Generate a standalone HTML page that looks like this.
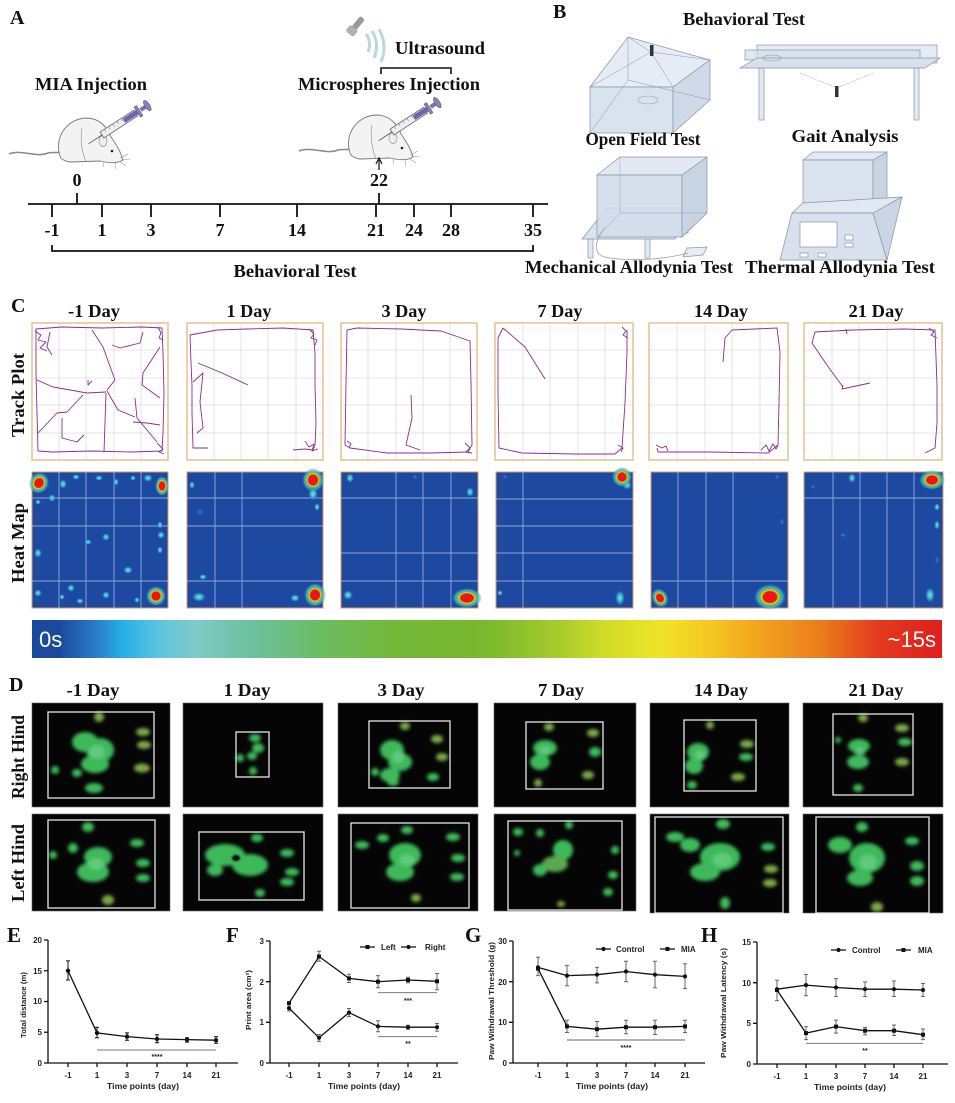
<!DOCTYPE html>
<html><head><meta charset="utf-8"><style>
html,body{margin:0;padding:0;background:#fff;}
svg{display:block;}
.s{font-family:"Liberation Serif",serif;font-weight:bold;fill:#111;}
.a{font-family:"Liberation Sans",sans-serif;font-weight:bold;fill:#222;}
</style></head><body>
<svg width="955" height="1103" viewBox="0 0 955 1103" xmlns="http://www.w3.org/2000/svg">
<defs>
<radialGradient id="hot"><stop offset="0" stop-color="#e81818"/><stop offset="0.42" stop-color="#e81818"/><stop offset="0.52" stop-color="#f0d020"/><stop offset="0.62" stop-color="#5cc050"/><stop offset="0.78" stop-color="#40c0d0" stop-opacity="0.8"/><stop offset="1" stop-color="#2f7ad0" stop-opacity="0"/></radialGradient>
<radialGradient id="cool"><stop offset="0" stop-color="#7fe0c0"/><stop offset="0.4" stop-color="#40c0c8"/><stop offset="0.7" stop-color="#3090d8" stop-opacity="0.7"/><stop offset="1" stop-color="#1d4aa0" stop-opacity="0"/></radialGradient>
<radialGradient id="faint"><stop offset="0" stop-color="#3fa0e0" stop-opacity="0.8"/><stop offset="1" stop-color="#1d4aa0" stop-opacity="0"/></radialGradient>
<linearGradient id="cb" x1="0" x2="1" y1="0" y2="0">
<stop offset="0" stop-color="#1b4a9c"/><stop offset="0.03" stop-color="#1b4a9c"/><stop offset="0.07" stop-color="#2a7cc8"/><stop offset="0.10" stop-color="#25b0e8"/><stop offset="0.14" stop-color="#5ec4e0"/><stop offset="0.18" stop-color="#7fcac8"/><stop offset="0.24" stop-color="#6cc0a0"/><stop offset="0.32" stop-color="#6cbc60"/><stop offset="0.40" stop-color="#74b838"/><stop offset="0.50" stop-color="#7ab82c"/><stop offset="0.58" stop-color="#a8cc2c"/><stop offset="0.63" stop-color="#d0dc28"/><stop offset="0.69" stop-color="#f0e428"/><stop offset="0.75" stop-color="#f5c420"/><stop offset="0.79" stop-color="#f2a81e"/><stop offset="0.87" stop-color="#ec7a1c"/><stop offset="0.93" stop-color="#e23a1e"/><stop offset="1" stop-color="#e01e1e"/>
</linearGradient>
<filter id="bl" x="-50%" y="-50%" width="200%" height="200%"><feGaussianBlur stdDeviation="1.8"/></filter>
<filter id="bl2" x="-50%" y="-50%" width="200%" height="200%"><feGaussianBlur stdDeviation="1"/></filter>
<g id="mouse">
<path d="M9,154 C22,149 36,158 48,153 C52,152 56,153 62,152" stroke="#8a8a8a" stroke-width="1.5" fill="none"/>
<path d="M60,156 C54,138 66,119 86,118 C100,118 108,128 111,137 C116,144 121,152 123,160 C117,164 108,163 100,161 L70,162 C64,161 61,159 60,156 Z" fill="#f3f3f3" stroke="#777" stroke-width="0.9"/>
<path d="M82,128 C80,140 82,152 86,162" stroke="#999" stroke-width="0.7" fill="none"/>
<ellipse cx="103" cy="141" rx="4" ry="5.5" fill="#eee" stroke="#999" stroke-width="0.7"/>
<circle cx="112" cy="151" r="1.3" fill="#222"/>
<path d="M120,158 l8,-4 M121,160 l9,-1 M120,162 l6,4 M115,163 l1,6 M104,162 l-1,5" stroke="#999" stroke-width="0.6"/>
<g transform="translate(102,135) rotate(-33)">
<line x1="-16" y1="0" x2="0" y2="0" stroke="#555" stroke-width="0.8"/>
<rect x="0" y="-3.5" width="40" height="7" fill="#eceef4" stroke="#666" stroke-width="0.8"/>
<path d="M5,-3.5v3 M10,-3.5v3 M15,-3.5v3 M20,-3.5v3 M25,-3.5v3 M30,-3.5v3 M35,-3.5v3" stroke="#777" stroke-width="0.5"/>
<rect x="26" y="-2.5" width="16" height="5" fill="#6d64ad"/>
<rect x="42" y="-6" width="3" height="12" fill="#8a80c0" stroke="#555" stroke-width="0.5"/>
<rect x="46" y="-2" width="6" height="4" fill="#7a70b0"/>
<ellipse cx="54" cy="0" rx="2.5" ry="6" fill="#8a80c0" stroke="#555" stroke-width="0.5"/>
</g>
</g>
</defs>

<!-- ================= PANEL A ================= -->
<text class="s" x="10" y="24" font-size="20">A</text>
<text class="s" x="91" y="90" font-size="18" text-anchor="middle" textLength="112" lengthAdjust="spacingAndGlyphs">MIA Injection</text>
<text class="s" x="389" y="90" font-size="18" text-anchor="middle" textLength="182" lengthAdjust="spacingAndGlyphs">Microspheres Injection</text>
<text class="s" x="440" y="54" font-size="18" text-anchor="middle" textLength="90" lengthAdjust="spacingAndGlyphs">Ultrasound</text>
<path d="M381,74 V68 H451 V74" stroke="#111" stroke-width="1.6" fill="none"/>
<!-- probe -->
<g transform="translate(355,27) rotate(40)"><rect x="-3" y="-12" width="6" height="14" fill="#9a9a9a" rx="2"/><rect x="-5" y="1" width="10" height="8" fill="#b0b0b0" rx="2"/></g>
<path d="M366,34 Q372,42 368,52" stroke="#bcd6e2" stroke-width="3" fill="none"/>
<path d="M372,31 Q380,44 374,58" stroke="#bcd6e2" stroke-width="3" fill="none"/>
<path d="M379,29 Q388,46 381,62" stroke="#bcd6e2" stroke-width="3" fill="none"/>
<use href="#mouse"/>
<use href="#mouse" transform="translate(290,-3)"/>
<path d="M379,170 V160 M376,164 L379,158 L382,164" stroke="#111" stroke-width="1.2" fill="none"/>
<text class="s" x="77" y="186" font-size="18" text-anchor="middle">0</text>
<text class="s" x="379" y="186" font-size="18" text-anchor="middle">22</text>
<g stroke="#111" stroke-width="1.8" fill="none">
<path d="M28,204 H548"/>
<path d="M77,193 V204 M379,193 V204"/>
<path d="M52,204 V217 M102,204 V217 M151,204 V217 M220,204 V217 M297,204 V217 M376,204 V217 M414,204 V217 M451,204 V217 M533,204 V217"/>
<path d="M52,245 V251 H533 V245"/>
</g>
<g class="s" font-size="18" text-anchor="middle">
<text x="52" y="236">-1</text><text x="102" y="236">1</text><text x="151" y="236">3</text><text x="220" y="236">7</text><text x="297" y="236">14</text><text x="376" y="236">21</text><text x="414" y="236">24</text><text x="451" y="236">28</text><text x="533" y="236">35</text>
</g>
<text class="s" x="295" y="277" font-size="18" text-anchor="middle" textLength="123" lengthAdjust="spacingAndGlyphs">Behavioral Test</text>

<!-- ================= PANEL B ================= -->
<text class="s" x="553" y="18" font-size="20">B</text>
<text class="s" x="744" y="25" font-size="18" text-anchor="middle" textLength="122" lengthAdjust="spacingAndGlyphs">Behavioral Test</text>
<!-- open field -->
<g stroke="#8796a8" stroke-width="0.7">
<polygon points="590,87 628,37 710,60 673,87" fill="#e6ecf5"/>
<polygon points="590,87 673,87 673,133 590,133" fill="#d9e2ef"/>
<polygon points="673,87 710,60 710,100 673,133" fill="#cfd9e8"/>
<path d="M628,37 V80 L590,133 M628,80 L710,100" fill="none" stroke-width="0.5"/>
<path d="M651,52 L590,87 M651,52 L673,87 M651,52 L628,37 M651,52 L710,60" fill="none" stroke-width="0.5"/>
</g>
<rect x="650" y="45" width="3.5" height="11" fill="#333"/>
<ellipse cx="648" cy="100" rx="10" ry="4" fill="none" stroke="#9aa" stroke-width="0.6"/>
<text class="s" x="643" y="145" font-size="18" text-anchor="middle" textLength="115" lengthAdjust="spacingAndGlyphs">Open Field Test</text>
<!-- gait -->
<g stroke="#8796a8" stroke-width="0.7">
<rect x="759" y="68" width="5" height="52" fill="#e3e9f2"/>
<rect x="914" y="68" width="5" height="52" fill="#e3e9f2"/>
<rect x="757" y="45" width="180" height="18" fill="#dfe6f0" fill-opacity="0.8"/>
<rect x="745" y="50" width="175" height="10" fill="#d3ddea" fill-opacity="0.7"/>
<polygon points="740,68 757,58 940,58 925,68" fill="#d7e0ec"/>
<path d="M800,73 L837,88 L873,73" fill="none" stroke-dasharray="2,1" stroke-width="0.5"/>
</g>
<ellipse cx="772" cy="58" rx="9" ry="3" fill="none" stroke="#999" stroke-width="0.6"/>
<rect x="835" y="86" width="3.5" height="11" fill="#333"/>
<text class="s" x="845" y="142" font-size="18" text-anchor="middle" textLength="107" lengthAdjust="spacingAndGlyphs">Gait Analysis</text>
<!-- mechanical -->
<g stroke="#8796a8" stroke-width="0.7">
<rect x="588" y="239" width="5" height="19" fill="#e3e9f2"/>
<rect x="645" y="239" width="5" height="19" fill="#e3e9f2"/>
<rect x="683" y="220" width="5" height="13" fill="#e3e9f2"/>
<polygon points="582,239 607,208 697,208 675,239" fill="#dbe3ee"/>
<polygon points="597,175 620,157 707,157 682,175" fill="#e3e9f2"/>
<polygon points="597,175 682,175 682,237 597,237" fill="#d2dcea" fill-opacity="0.9"/>
<polygon points="682,175 707,157 707,213 682,237" fill="#c8d3e4"/>
<polygon points="687,248 707,247 703,255 683,257" fill="#e8ecf2"/>
<path d="M620,157 V213 L597,237 M620,213 H707" fill="none" stroke-width="0.4"/>
<path d="M605,228 C595,240 590,256 610,258 C640,262 670,258 688,253" fill="none" stroke="#999" stroke-width="0.7"/>
</g>
<text class="s" x="629" y="273" font-size="18" text-anchor="middle" textLength="208" lengthAdjust="spacingAndGlyphs">Mechanical Allodynia Test</text>
<!-- thermal -->
<g stroke="#8796a8" stroke-width="0.7">
<polygon points="803,160 813,152 887,152 873,160" fill="#e3e9f2"/>
<polygon points="803,160 873,160 873,203 803,203" fill="#d6dfec" fill-opacity="0.9"/>
<polygon points="873,160 887,152 887,202 873,203" fill="#c8d3e4"/>
<polygon points="792,213 803,203 902,197 873,213" fill="#e3e9f2"/>
<polygon points="792,213 873,213 887,260 780,260" fill="#d8e1ed"/>
<polygon points="873,213 902,197 887,260" fill="#cad5e5"/>
<rect x="800" y="222" width="37" height="25" fill="#fff"/>
<rect x="845" y="235" width="8" height="5" fill="#fff"/>
<rect x="845" y="243" width="8" height="4" fill="#fff"/>
<rect x="800" y="253" width="8" height="4" fill="#fff"/>
<rect x="818" y="253" width="8" height="4" fill="#fff"/>
</g>
<text class="s" x="840" y="273" font-size="18" text-anchor="middle" textLength="190" lengthAdjust="spacingAndGlyphs">Thermal Allodynia Test</text>

<!-- ================= PANEL C ================= -->
<text class="s" x="11" y="312" font-size="20">C</text>
<g class="s" font-size="18" text-anchor="middle">
<text x="94" y="317" textLength="52" lengthAdjust="spacingAndGlyphs">-1 Day</text>
<text x="249" y="317" textLength="45" lengthAdjust="spacingAndGlyphs">1 Day</text>
<text x="404" y="317" textLength="45" lengthAdjust="spacingAndGlyphs">3 Day</text>
<text x="560" y="317" textLength="45" lengthAdjust="spacingAndGlyphs">7 Day</text>
<text x="721" y="317" textLength="54" lengthAdjust="spacingAndGlyphs">14 Day</text>
<text x="876" y="317" textLength="55" lengthAdjust="spacingAndGlyphs">21 Day</text>
</g>
<text class="s" font-size="18" text-anchor="middle" transform="translate(24,395) rotate(-90)" textLength="84" lengthAdjust="spacingAndGlyphs">Track Plot</text>
<text class="s" font-size="18" text-anchor="middle" transform="translate(24,543) rotate(-90)" textLength="80" lengthAdjust="spacingAndGlyphs">Heat Map</text>

<!-- track boxes -->
<g id="tgrid" stroke="#dcdcdc" stroke-width="0.8">
<path d="M59,323V460 M86,323V460 M114,323V460 M141,323V460 M32,350H168 M32,378H168 M32,405H168 M32,433H168"/>
<path d="M214,323V460 M241,323V460 M268,323V460 M296,323V460 M187,350H323 M187,378H323 M187,405H323 M187,433H323"/>
<path d="M368,323V460 M396,323V460 M423,323V460 M450,323V460 M341,350H477 M341,378H477 M341,405H477 M341,433H477"/>
<path d="M523,323V460 M550,323V460 M578,323V460 M605,323V460 M495,350H633 M495,378H633 M495,405H633 M495,433H633"/>
<path d="M677,323V460 M705,323V460 M732,323V460 M760,323V460 M649,350H788 M649,378H788 M649,405H788 M649,433H788"/>
<path d="M832,323V460 M859,323V460 M887,323V460 M914,323V460 M804,350H942 M804,378H942 M804,405H942 M804,433H942"/>
</g>
<g fill="none" stroke="#e6c08f" stroke-width="1.5">
<rect x="32" y="323" width="136" height="137"/><rect x="187" y="323" width="136" height="137"/><rect x="341" y="323" width="136" height="137"/><rect x="495" y="323" width="138" height="137"/><rect x="649" y="323" width="139" height="137"/><rect x="804" y="323" width="138" height="137"/>
</g>
<g fill="none" stroke="#8a2d8f" stroke-width="0.9" stroke-linejoin="round">
<g transform="translate(32,323)">
<path d="M4,6 L30,4 L70,5 L110,4 L130,5 L131,30 L132,70 L131,110 L130,128 L100,129 L60,128 L20,129 L6,128 L5,90 L4,50 Z"/>
<path d="M3,8 l6,4 l-3,5 l8,2 l-6,6 l7,3 M125,120 l6,6 l-4,3 l5,2 M126,4 l3,6 l-2,5 l4,2"/>
<path d="M5,57 L21,64 L55,70 L74,69 M60,7 L71,24 L83,57 L75,67 M74,70 L72,129 M75,68 L86,87 L103,94 M128,24 L111,50 L110,62 L128,75 M103,75 L105,95 L125,119 M101,99 L115,100 L128,102 M111,9 L108,20 L88,25 L80,22 M18,9 L15,24 L20,32 M6,110 L25,90 L35,89 L51,72 M30,95 L30,115 L45,119 L52,112 M56,57 L56,62 L60,58"/>
</g>
<g transform="translate(187,323)">
<path d="M3,12 L30,7 L60,6 L96,5 L126,7 L128,30 L128,62 L129,100 L128,122 L126,127 M3,12 L4,40 L5,62 L5,90 L6,125 L21,125 M11,40 L35,50 L61,62 M6,59 L16,50 L13,79 L16,105 L10,110 M106,127 L118,126 L126,127 M118,118 l4,6 l5,-3 l-2,7 l6,-2 M122,6 l5,5 l-3,4 l6,2 l-2,5"/>
</g>
<g transform="translate(341,323)">
<path d="M6,7 L16,5 L60,6 L100,8 L129,18 L130,60 L131,122 L127,129 L90,130 L46,130 L9,125 L4,122 L5,60 Z M70,72 L71,95 L65,122 L79,127 M124,120 l5,5 l-4,4 l6,1 M6,118 l4,3 l-2,4"/>
</g>
<g transform="translate(495,323)">
<path d="M8,5 L30,24 L50,56 M8,5 L3,15 L3,70 L4,125 L27,130 L80,131 L120,131 L127,125 L130,80 L132,29 L132,7 M127,4 l4,4 l-3,4 l5,3 M123,122 l5,3 l-2,4"/>
</g>
<g transform="translate(649,323)">
<path d="M74,39 L76,15 L83,7 L128,5 L131,29 L130,80 L129,122 L119,130 L60,129 L9,129 L8,125 M7,122 l6,3 l4,-2 l2,5 M112,127 l5,-5 l3,6 l4,-7 l3,5 l2,-4"/>
</g>
<g transform="translate(804,323)">
<path d="M66,60 L38,66 L39,62 M39,64 L25,45 L8,20 L11,9 L48,7 L100,6 L131,7 L133,62 L133,100 L131,125 L121,130 M125,5 l5,4 l-3,3 l6,3 M42,6 l1,5"/>
</g>
</g>

<!-- heat maps -->
<g fill="#1d4aa0" stroke="#d89a60" stroke-width="1">
<rect x="32" y="472" width="136" height="136"/><rect x="187" y="472" width="136" height="136"/><rect x="341" y="472" width="137" height="136"/><rect x="496" y="472" width="137" height="136"/><rect x="651" y="472" width="137" height="136"/><rect x="804" y="472" width="139" height="136"/>
</g>
<g stroke="#a8b8e4" stroke-width="0.9" opacity="0.85">
<path d="M59,472V608 M86,472V608 M114,472V608 M141,472V608 M32,498H168 M32,526H168 M32,581H168"/>
<path d="M215,472V608 M242,472V608 M187,498H323 M187,526H323 M187,581H323"/>
<path d="M396,472V608 M423,472V608 M451,472V608 M341,498H478 M341,553H478 M341,581H478"/>
<path d="M523,472V608 M496,499H633 M496,526H633 M496,553H633 M496,581H633"/>
<path d="M678,472V608 M706,472V608 M733,472V608 M651,581H788"/>
<path d="M833,472V608 M860,472V608 M887,472V608 M914,472V608 M804,498H943"/>
</g>
<!-- heat spots -->
<g fill="url(#cool)">
<ellipse cx="63" cy="484" rx="4" ry="5"/><ellipse cx="76" cy="477" rx="4" ry="3"/><ellipse cx="99" cy="478" rx="4" ry="3"/><ellipse cx="116" cy="482" rx="3" ry="4"/><ellipse cx="133" cy="478" rx="3" ry="3"/><ellipse cx="148" cy="478" rx="5" ry="4"/><ellipse cx="52" cy="498" rx="4" ry="4"/><ellipse cx="38" cy="502" rx="3" ry="3"/><ellipse cx="160" cy="525" rx="3" ry="4"/><ellipse cx="161" cy="535" rx="4" ry="4"/><ellipse cx="160" cy="550" rx="3" ry="4"/><ellipse cx="106" cy="537" rx="4" ry="4"/><ellipse cx="88" cy="542" rx="4" ry="3"/><ellipse cx="38" cy="553" rx="4" ry="5"/><ellipse cx="128" cy="570" rx="5" ry="4"/><ellipse cx="71" cy="588" rx="4" ry="4"/><ellipse cx="38" cy="593" rx="4" ry="4"/><ellipse cx="106" cy="595" rx="4" ry="4"/><ellipse cx="80" cy="601" rx="4" ry="3"/><ellipse cx="137" cy="600" rx="3" ry="3"/><ellipse cx="62" cy="597" rx="3" ry="3"/>
<ellipse cx="317" cy="507" rx="3" ry="4"/><ellipse cx="295" cy="598" rx="5" ry="4"/><ellipse cx="203" cy="577" rx="4" ry="3"/><ellipse cx="192" cy="485" rx="3" ry="4"/><ellipse cx="199" cy="597" rx="7" ry="5"/>
<ellipse cx="350" cy="478" rx="4" ry="5"/><ellipse cx="470" cy="492" rx="4" ry="5"/><ellipse cx="348" cy="595" rx="5" ry="5"/>
<ellipse cx="627" cy="485" rx="5" ry="5"/><ellipse cx="620" cy="598" rx="5" ry="8"/><ellipse cx="500" cy="593" rx="3" ry="3"/>
<ellipse cx="852" cy="478" rx="4" ry="5"/><ellipse cx="930" cy="595" rx="5" ry="8"/><ellipse cx="937" cy="525" rx="3" ry="5"/><ellipse cx="937" cy="507" rx="3" ry="4"/>
</g>
<g fill="url(#faint)">
<ellipse cx="200" cy="512" rx="4" ry="4"/><ellipse cx="415" cy="477" rx="3" ry="3"/><ellipse cx="505" cy="477" rx="3" ry="3"/><ellipse cx="777" cy="477" rx="3" ry="3"/><ellipse cx="782" cy="522" rx="3" ry="4"/><ellipse cx="843" cy="535" rx="4" ry="3"/><ellipse cx="813" cy="487" rx="3" ry="3"/><ellipse cx="937" cy="560" rx="3" ry="5"/>
</g>
<g fill="url(#hot)">
<ellipse cx="39" cy="483" rx="10" ry="11" transform="rotate(30 39 483)"/>
<ellipse cx="162" cy="486" rx="7" ry="10"/>
<ellipse cx="156" cy="596" rx="10" ry="10"/>
<ellipse cx="313" cy="480" rx="11" ry="12"/><ellipse cx="313" cy="494" rx="5" ry="7" fill="url(#cool)"/>
<ellipse cx="315" cy="595" rx="11" ry="12"/>
<ellipse cx="467" cy="598" rx="15" ry="10"/>
<ellipse cx="622" cy="477" rx="10" ry="10"/>
<ellipse cx="660" cy="598" rx="8" ry="10" transform="rotate(-30 660 598)"/>
<ellipse cx="770" cy="597" rx="16" ry="13"/>
<ellipse cx="932" cy="480" rx="13" ry="10"/>
</g>
<!-- colour bar -->
<rect x="32" y="620" width="910" height="38" fill="url(#cb)"/>
<text x="39" y="647" font-family="Liberation Sans, sans-serif" font-size="22" fill="#fff">0s</text>
<text x="936" y="647" font-family="Liberation Sans, sans-serif" font-size="22" fill="#fff" text-anchor="end">~15s</text>

<!-- ================= PANEL D ================= -->
<text class="s" x="9" y="691" font-size="20">D</text>
<g class="s" font-size="18" text-anchor="middle">
<text x="93" y="696" textLength="53" lengthAdjust="spacingAndGlyphs">-1 Day</text>
<text x="247" y="696" textLength="47" lengthAdjust="spacingAndGlyphs">1 Day</text>
<text x="401" y="696" textLength="47" lengthAdjust="spacingAndGlyphs">3 Day</text>
<text x="561" y="696" textLength="46" lengthAdjust="spacingAndGlyphs">7 Day</text>
<text x="721" y="696" textLength="54" lengthAdjust="spacingAndGlyphs">14 Day</text>
<text x="876" y="696" textLength="55" lengthAdjust="spacingAndGlyphs">21 Day</text>
</g>
<text class="s" font-size="18" text-anchor="middle" transform="translate(24,757) rotate(-90)" textLength="84" lengthAdjust="spacingAndGlyphs">Right Hind</text>
<text class="s" font-size="18" text-anchor="middle" transform="translate(24,863) rotate(-90)" textLength="78" lengthAdjust="spacingAndGlyphs">Left Hind</text>
<g fill="#050505" stroke="#666" stroke-width="0.6">
<rect x="32" y="703" width="138" height="104"/><rect x="183" y="703" width="140" height="104"/><rect x="338" y="703" width="140" height="104"/><rect x="494" y="703" width="142" height="104"/><rect x="650" y="703" width="139" height="104"/><rect x="803" y="703" width="140" height="104"/>
<rect x="32" y="814" width="138" height="97"/><rect x="183" y="814" width="140" height="97"/><rect x="338" y="814" width="140" height="97"/><rect x="494" y="814" width="142" height="97"/><rect x="650" y="814" width="139" height="99"/><rect x="803" y="814" width="140" height="99"/>
</g>
<g filter="url(#bl)" fill="#3cb95a">
<!-- right hind -->
<ellipse cx="85" cy="742" rx="13" ry="10"/><ellipse cx="100" cy="750" rx="14" ry="12"/><ellipse cx="95" cy="764" rx="14" ry="9"/>
<ellipse cx="99" cy="717" rx="5" ry="5" fill="#7ca84a"/><ellipse cx="143" cy="732" rx="7" ry="4" fill="#7ca84a"/><ellipse cx="144" cy="745" rx="7" ry="4" fill="#7ca84a"/><ellipse cx="142" cy="768" rx="8" ry="4.5" fill="#7ca84a"/><ellipse cx="94" cy="788" rx="9" ry="5"/><ellipse cx="77" cy="773" rx="5" ry="4"/><ellipse cx="55" cy="770" rx="4" ry="4"/>
<ellipse cx="255" cy="738" rx="6" ry="4"/><ellipse cx="258" cy="748" rx="6" ry="5"/><ellipse cx="252" cy="756" rx="5" ry="4"/><ellipse cx="240" cy="758" rx="4" ry="4"/><ellipse cx="253" cy="771" rx="4" ry="4"/>
<ellipse cx="392" cy="750" rx="12" ry="10"/><ellipse cx="400" cy="762" rx="12" ry="9"/><ellipse cx="390" cy="775" rx="10" ry="7"/>
<ellipse cx="405" cy="726" rx="5" ry="4" fill="#7ca84a"/><ellipse cx="437" cy="739" rx="6" ry="4" fill="#7ca84a"/><ellipse cx="442" cy="757" rx="6" ry="4" fill="#7ca84a"/><ellipse cx="433" cy="777" rx="6" ry="4"/><ellipse cx="393" cy="782" rx="6" ry="4"/><ellipse cx="375" cy="772" rx="4" ry="4"/>
<ellipse cx="545" cy="748" rx="12" ry="8"/><ellipse cx="540" cy="762" rx="10" ry="8"/>
<ellipse cx="549" cy="727" rx="5" ry="4" fill="#7ca84a"/><ellipse cx="593" cy="733" rx="6" ry="4" fill="#7ca84a"/><ellipse cx="595" cy="752" rx="6" ry="5"/><ellipse cx="588" cy="775" rx="6" ry="4" fill="#7ca84a"/><ellipse cx="538" cy="783" rx="4" ry="4" fill="#7ca84a"/>
<ellipse cx="698" cy="752" rx="11" ry="9"/><ellipse cx="694" cy="766" rx="9" ry="8"/>
<ellipse cx="710" cy="725" rx="4" ry="4" fill="#7ca84a"/><ellipse cx="747" cy="744" rx="7" ry="4" fill="#7ca84a"/><ellipse cx="746" cy="757" rx="7" ry="4"/><ellipse cx="738" cy="777" rx="7" ry="4" fill="#7ca84a"/><ellipse cx="692" cy="785" rx="5" ry="4"/>
<ellipse cx="859" cy="746" rx="11" ry="7"/><ellipse cx="858" cy="762" rx="11" ry="7"/>
<ellipse cx="863" cy="718" rx="5" ry="4" fill="#7ca84a"/><ellipse cx="902" cy="728" rx="7" ry="4" fill="#7ca84a"/><ellipse cx="905" cy="742" rx="7" ry="4"/><ellipse cx="902" cy="762" rx="7" ry="4" fill="#7ca84a"/><ellipse cx="858" cy="788" rx="5" ry="4"/><ellipse cx="838" cy="740" rx="3" ry="3"/>
<!-- left hind -->
<ellipse cx="98" cy="857" rx="14" ry="10"/><ellipse cx="93" cy="872" rx="16" ry="10"/>
<ellipse cx="88" cy="827" rx="6" ry="5"/><ellipse cx="73" cy="848" rx="5" ry="5"/><ellipse cx="53" cy="855" rx="4" ry="4"/><ellipse cx="137" cy="843" rx="7" ry="4"/><ellipse cx="143" cy="863" rx="7" ry="4"/><ellipse cx="143" cy="878" rx="7" ry="4"/><ellipse cx="108" cy="900" rx="6" ry="5" fill="#7ca84a"/>
<ellipse cx="225" cy="855" rx="20" ry="11"/><ellipse cx="250" cy="865" rx="18" ry="11"/><ellipse cx="215" cy="870" rx="8" ry="6"/>
<ellipse cx="257" cy="838" rx="6" ry="4"/><ellipse cx="287" cy="853" rx="7" ry="4"/><ellipse cx="292" cy="872" rx="7" ry="4"/><ellipse cx="287" cy="882" rx="7" ry="4"/><ellipse cx="260" cy="893" rx="5" ry="4"/>
<ellipse cx="405" cy="855" rx="16" ry="12"/><ellipse cx="400" cy="872" rx="14" ry="9"/>
<ellipse cx="407" cy="830" rx="6" ry="4"/><ellipse cx="362" cy="845" rx="7" ry="4"/><ellipse cx="383" cy="838" rx="6" ry="4"/><ellipse cx="453" cy="837" rx="7" ry="4"/><ellipse cx="458" cy="858" rx="7" ry="4"/><ellipse cx="457" cy="877" rx="7" ry="4"/><ellipse cx="416" cy="898" rx="5" ry="4" fill="#7ca84a"/>
<ellipse cx="563" cy="850" rx="10" ry="10"/><ellipse cx="555" cy="864" rx="13" ry="8" fill="#5aa850"/><ellipse cx="540" cy="870" rx="7" ry="6"/>
<ellipse cx="569" cy="825" rx="4" ry="4"/><ellipse cx="540" cy="833" rx="4" ry="4"/><ellipse cx="518" cy="832" rx="5" ry="4"/><ellipse cx="517" cy="853" rx="3" ry="3"/><ellipse cx="615" cy="850" rx="4" ry="4"/><ellipse cx="613" cy="875" rx="5" ry="4"/><ellipse cx="608" cy="892" rx="5" ry="4"/><ellipse cx="561" cy="904" rx="4" ry="3" fill="#7ca84a"/>
<ellipse cx="720" cy="857" rx="20" ry="14"/><ellipse cx="705" cy="872" rx="15" ry="9"/><ellipse cx="690" cy="845" rx="10" ry="7"/>
<ellipse cx="675" cy="837" rx="9" ry="5"/><ellipse cx="723" cy="824" rx="7" ry="5"/><ellipse cx="768" cy="847" rx="7" ry="4"/><ellipse cx="771" cy="869" rx="7" ry="4" fill="#7ca84a"/><ellipse cx="770" cy="883" rx="7" ry="4" fill="#7ca84a"/><ellipse cx="725" cy="903" rx="5" ry="6"/>
<ellipse cx="867" cy="858" rx="18" ry="15"/><ellipse cx="860" cy="878" rx="13" ry="8"/><ellipse cx="840" cy="845" rx="12" ry="8"/>
<ellipse cx="862" cy="827" rx="6" ry="5"/><ellipse cx="912" cy="841" rx="7" ry="4"/><ellipse cx="917" cy="866" rx="7" ry="5"/><ellipse cx="917" cy="881" rx="7" ry="5"/><ellipse cx="877" cy="907" rx="6" ry="5" fill="#7ca84a"/>
</g>
<g filter="url(#bl)" fill="#6fd08c" opacity="0.7">
<ellipse cx="97" cy="752" rx="8" ry="7"/><ellipse cx="398" cy="757" rx="6" ry="6"/><ellipse cx="545" cy="750" rx="6" ry="4"/><ellipse cx="700" cy="755" rx="5" ry="5"/><ellipse cx="860" cy="752" rx="5" ry="5"/>
<ellipse cx="96" cy="864" rx="8" ry="6"/><ellipse cx="407" cy="860" rx="8" ry="6"/><ellipse cx="722" cy="860" rx="10" ry="7"/><ellipse cx="868" cy="862" rx="9" ry="8"/>
</g>
<ellipse cx="236" cy="858" rx="4" ry="3" fill="#050505" filter="url(#bl2)"/>
<g fill="none" stroke="#e6e6e6" stroke-width="1.3">
<rect x="48" y="712" width="106" height="86"/><rect x="236" y="732" width="33" height="45"/><rect x="369" y="721" width="81" height="67"/><rect x="526" y="722" width="77" height="67"/><rect x="684" y="720" width="72" height="71"/><rect x="833" y="714" width="80" height="81"/>
<rect x="48" y="820" width="107" height="88"/><rect x="199" y="832" width="105" height="68"/><rect x="351" y="823" width="118" height="85"/><rect x="508" y="821" width="114" height="89"/><rect x="655" y="817" width="128" height="96"/><rect x="816" y="817" width="113" height="96"/>
</g>

<!-- ================= PANEL E ================= -->
<text class="s" x="7" y="942" font-size="21">E</text>
<g stroke="#111" stroke-width="1.3" fill="none">
<path d="M48,940 V1063 H238"/>
<path d="M44,940H48 M44,970.75H48 M44,1001.5H48 M44,1032.25H48 M44,1063H48"/>
<path d="M68,1063V1067 M97,1063V1067 M127,1063V1067 M157,1063V1067 M187,1063V1067 M216,1063V1067"/>
<polyline points="68,970.75 97,1032.9 127,1036.6 157,1039 187,1039.6 216,1040.2"/>
<path d="M68,960.9V980 M66,960.9h4 M66,980h4 M97,1027.3V1037.8 M95,1027.3h4 M95,1037.8h4 M127,1032.9V1040.2 M125,1032.9h4 M125,1040.2h4 M157,1034.7V1042.7 M155,1034.7h4 M155,1042.7h4 M187,1037.8V1042.1 M185,1037.8h4 M185,1042.1h4 M216,1036.6V1043.3 M214,1036.6h4 M214,1043.3h4" stroke-width="1"/>
</g>
<g fill="#111"><circle cx="68" cy="970.75" r="2.2"/><circle cx="97" cy="1032.9" r="2.2"/><circle cx="127" cy="1036.6" r="2.2"/><circle cx="157" cy="1039" r="2.2"/><circle cx="187" cy="1039.6" r="2.2"/><circle cx="216" cy="1040.2" r="2.2"/></g>
<path d="M97,1050 H216" stroke="#777" stroke-width="0.9"/>
<text class="a" x="157" y="1059" font-size="7" text-anchor="middle">****</text>
<g class="a" font-size="8" text-anchor="end"><text x="42" y="943">20</text><text x="42" y="974">15</text><text x="42" y="1004">10</text><text x="42" y="1035">5</text><text x="42" y="1066">0</text></g>
<g class="a" font-size="8" text-anchor="middle"><text x="68" y="1078">-1</text><text x="97" y="1078">1</text><text x="127" y="1078">3</text><text x="157" y="1078">7</text><text x="187" y="1078">14</text><text x="216" y="1078">21</text></g>
<text class="a" x="143" y="1089" font-size="8" text-anchor="middle" textLength="72" lengthAdjust="spacingAndGlyphs">Time points (day)</text>
<text class="a" font-size="7.5" text-anchor="middle" transform="translate(26,1005) rotate(-90)" textLength="66" lengthAdjust="spacingAndGlyphs">Total distance (m)</text>

<!-- ================= PANEL F ================= -->
<text class="s" x="226" y="942" font-size="21">F</text>
<g stroke="#111" stroke-width="1.3" fill="none">
<path d="M270,941 V1063 H458"/>
<path d="M266,941H270 M266,981.7H270 M266,1022.3H270 M266,1063H270"/>
<path d="M289,1063V1067 M319,1063V1067 M349,1063V1067 M378,1063V1067 M408,1063V1067 M437,1063V1067"/>
<polyline points="289,1003.2 319,956.5 349,978.4 378,981.7 408,980 437,981.3"/>
<polyline points="289,1008.1 319,1037.8 349,1012.6 378,1026.4 408,1027.2 437,1027.2"/>
</g>
<g stroke="#666" stroke-width="1" fill="none">
<path d="M289,1001V1006 M319,951.2V961.3 M317,951.2h4 M317,961.3h4 M349,974.3V982.5 M347,974.3h4 M347,982.5h4 M378,975.6V987.8 M376,975.6h4 M376,987.8h4 M408,977.2V982.9 M406,977.2h4 M406,982.9h4 M437,973.5V989.8 M435,973.5h4 M435,989.8h4"/>
<path d="M289,1005.3V1011 M287,1011h4 M319,1034.5V1041.4 M317,1034.5h4 M317,1041.4h4 M349,1008.5V1016.6 M347,1008.5h4 M347,1016.6h4 M378,1020.7V1031.7 M376,1020.7h4 M376,1031.7h4 M408,1025.2V1029.2 M406,1025.2h4 M406,1029.2h4 M437,1023.5V1031.3 M435,1023.5h4 M435,1031.3h4"/>
</g>
<g fill="#111">
<rect x="287" y="1001.2" width="4" height="4"/><rect x="317" y="954.5" width="4" height="4"/><rect x="347" y="976.4" width="4" height="4"/><rect x="376" y="979.7" width="4" height="4"/><rect x="406" y="978" width="4" height="4"/><rect x="435" y="979.3" width="4" height="4"/>
<circle cx="289" cy="1008.1" r="2.1"/><circle cx="319" cy="1037.8" r="2.1"/><circle cx="349" cy="1012.6" r="2.1"/><circle cx="378" cy="1026.4" r="2.1"/><circle cx="408" cy="1027.2" r="2.1"/><circle cx="437" cy="1027.2" r="2.1"/>
</g>
<path d="M378,992.7 H437 M378,1036.7 H437" stroke="#666" stroke-width="0.9"/>
<text class="a" x="408" y="1003" font-size="7" text-anchor="middle">***</text>
<text class="a" x="408" y="1046" font-size="7" text-anchor="middle">**</text>
<path d="M360,947 H375 M401,947 H416" stroke="#111" stroke-width="1.3"/>
<rect x="365.5" y="945" width="4" height="4" fill="#111"/><circle cx="408.5" cy="947" r="2.1" fill="#111"/>
<text class="a" x="381" y="950" font-size="8">Left</text>
<text class="a" x="425" y="950" font-size="8">Right</text>
<g class="a" font-size="8" text-anchor="end"><text x="264" y="944">3</text><text x="264" y="985">2</text><text x="264" y="1025">1</text><text x="264" y="1066">0</text></g>
<g class="a" font-size="8" text-anchor="middle"><text x="289" y="1078">-1</text><text x="319" y="1078">1</text><text x="349" y="1078">3</text><text x="378" y="1078">7</text><text x="408" y="1078">14</text><text x="437" y="1078">21</text></g>
<text class="a" x="364" y="1089" font-size="8" text-anchor="middle" textLength="72" lengthAdjust="spacingAndGlyphs">Time points (day)</text>
<text class="a" font-size="7.5" text-anchor="middle" transform="translate(251,1000) rotate(-90)" textLength="60" lengthAdjust="spacingAndGlyphs">Print area (cm²)</text>

<!-- ================= PANEL G ================= -->
<text class="s" x="465" y="942" font-size="21">G</text>
<g stroke="#111" stroke-width="1.3" fill="none">
<path d="M513,941 V1063 H705"/>
<path d="M509,941H513 M509,981.7H513 M509,1022.3H513 M509,1063H513"/>
<path d="M538,1063V1067 M567,1063V1067 M597,1063V1067 M626,1063V1067 M655,1063V1067 M685,1063V1067"/>
<polyline points="538,967.4 567,975.6 597,974.7 626,971.5 655,974.7 685,976.4"/>
<polyline points="538,968.6 567,1026.4 597,1029.2 626,1027.2 655,1027.2 685,1026.4"/>
</g>
<g stroke="#666" stroke-width="1" fill="none">
<path d="M538,957.3V975.6 M536,957.3h4 M536,975.6h4 M567,965.4V985.7 M565,965.4h4 M565,985.7h4 M597,967.4V982.9 M595,967.4h4 M595,982.9h4 M626,961.3V981.7 M624,961.3h4 M624,981.7h4 M655,961.3V987.8 M653,961.3h4 M653,987.8h4 M685,963.8V988.6 M683,963.8h4 M683,988.6h4"/>
<path d="M567,1020.3V1032.5 M565,1020.3h4 M565,1032.5h4 M597,1021.5V1036.6 M595,1021.5h4 M595,1036.6h4 M626,1020.3V1033.7 M624,1020.3h4 M624,1033.7h4 M655,1020.3V1034.5 M653,1020.3h4 M653,1034.5h4 M685,1020.3V1032.5 M683,1020.3h4 M683,1032.5h4"/>
</g>
<g fill="#111">
<circle cx="538" cy="967.4" r="2.1"/><circle cx="567" cy="975.6" r="2.1"/><circle cx="597" cy="974.7" r="2.1"/><circle cx="626" cy="971.5" r="2.1"/><circle cx="655" cy="974.7" r="2.1"/><circle cx="685" cy="976.4" r="2.1"/>
<rect x="536" y="966.6" width="4" height="4"/><rect x="565" y="1024.4" width="4" height="4"/><rect x="595" y="1027.2" width="4" height="4"/><rect x="624" y="1025.2" width="4" height="4"/><rect x="653" y="1025.2" width="4" height="4"/><rect x="683" y="1024.4" width="4" height="4"/>
</g>
<path d="M567,1040 H685" stroke="#666" stroke-width="0.9"/>
<text class="a" x="626" y="1050" font-size="7" text-anchor="middle">****</text>
<path d="M596,949 H611 M660,949 H675" stroke="#111" stroke-width="1.3"/>
<circle cx="603.5" cy="949" r="2.1" fill="#111"/><rect x="665.5" y="947" width="4" height="4" fill="#111"/>
<text class="a" x="616" y="952" font-size="8">Control</text>
<text class="a" x="681" y="952" font-size="8">MIA</text>
<g class="a" font-size="8" text-anchor="end"><text x="507" y="944">30</text><text x="507" y="985">20</text><text x="507" y="1025">10</text><text x="507" y="1066">0</text></g>
<g class="a" font-size="8" text-anchor="middle"><text x="538" y="1078">-1</text><text x="567" y="1078">1</text><text x="597" y="1078">3</text><text x="626" y="1078">7</text><text x="655" y="1078">14</text><text x="685" y="1078">21</text></g>
<text class="a" x="612" y="1089" font-size="8" text-anchor="middle" textLength="72" lengthAdjust="spacingAndGlyphs">Time points (day)</text>
<text class="a" font-size="7.5" text-anchor="middle" transform="translate(494,1001) rotate(-90)" textLength="118" lengthAdjust="spacingAndGlyphs">Paw Withdrawal Threshold (g)</text>

<!-- ================= PANEL H ================= -->
<text class="s" x="701" y="942" font-size="21">H</text>
<g stroke="#111" stroke-width="1.3" fill="none">
<path d="M757,942 V1064 H948"/>
<path d="M753,942H757 M753,982.7H757 M753,1023.3H757 M753,1064H757"/>
<path d="M777,1064V1068 M806,1064V1068 M836,1064V1068 M865,1064V1068 M894,1064V1068 M923,1064V1068"/>
<polyline points="777,989.2 806,985.1 836,987.5 865,989.2 894,989.2 923,990"/>
<polyline points="777,990 806,1033.1 836,1026.6 865,1030.7 894,1030.7 923,1034.7"/>
</g>
<g stroke="#666" stroke-width="1" fill="none">
<path d="M777,980.2V1000.6 M775,980.2h4 M775,1000.6h4 M806,974.5V995.7 M804,974.5h4 M804,995.7h4 M836,978.6V996.5 M834,978.6h4 M834,996.5h4 M865,981.9V996.5 M863,981.9h4 M863,996.5h4 M894,981V996.5 M892,981h4 M892,996.5h4 M923,983.5V996.5 M921,983.5h4 M921,996.5h4"/>
<path d="M806,1026.6V1039.6 M804,1026.6h4 M804,1039.6h4 M836,1020.1V1033.1 M834,1020.1h4 M834,1033.1h4 M865,1027.4V1034.7 M863,1027.4h4 M863,1034.7h4 M894,1025V1035.5 M892,1025h4 M892,1035.5h4 M923,1029V1039.6 M921,1029h4 M921,1039.6h4"/>
</g>
<g fill="#111">
<circle cx="777" cy="989.2" r="2.1"/><circle cx="806" cy="985.1" r="2.1"/><circle cx="836" cy="987.5" r="2.1"/><circle cx="865" cy="989.2" r="2.1"/><circle cx="894" cy="989.2" r="2.1"/><circle cx="923" cy="990" r="2.1"/>
<rect x="775" y="988" width="4" height="4"/><rect x="804" y="1031.1" width="4" height="4"/><rect x="834" y="1024.6" width="4" height="4"/><rect x="863" y="1028.7" width="4" height="4"/><rect x="892" y="1028.7" width="4" height="4"/><rect x="921" y="1032.7" width="4" height="4"/>
</g>
<path d="M806,1043.3 H923" stroke="#666" stroke-width="0.9"/>
<text class="a" x="865" y="1053" font-size="7" text-anchor="middle">**</text>
<path d="M831,950 H846 M896,950 H911" stroke="#111" stroke-width="1.3"/>
<circle cx="838.5" cy="950" r="2.1" fill="#111"/><rect x="901.5" y="948" width="4" height="4" fill="#111"/>
<text class="a" x="852" y="953" font-size="8">Control</text>
<text class="a" x="918" y="953" font-size="8">MIA</text>
<g class="a" font-size="8" text-anchor="end"><text x="751" y="945">15</text><text x="751" y="986">10</text><text x="751" y="1026">5</text><text x="751" y="1067">0</text></g>
<g class="a" font-size="8" text-anchor="middle"><text x="777" y="1079">-1</text><text x="806" y="1079">1</text><text x="836" y="1079">3</text><text x="865" y="1079">7</text><text x="894" y="1079">14</text><text x="923" y="1079">21</text></g>
<text class="a" x="850" y="1090" font-size="8" text-anchor="middle" textLength="72" lengthAdjust="spacingAndGlyphs">Time points (day)</text>
<text class="a" font-size="7.5" text-anchor="middle" transform="translate(726,1003) rotate(-90)" textLength="110" lengthAdjust="spacingAndGlyphs">Paw Withdrawal Latency (s)</text>
</svg>
</body></html>
